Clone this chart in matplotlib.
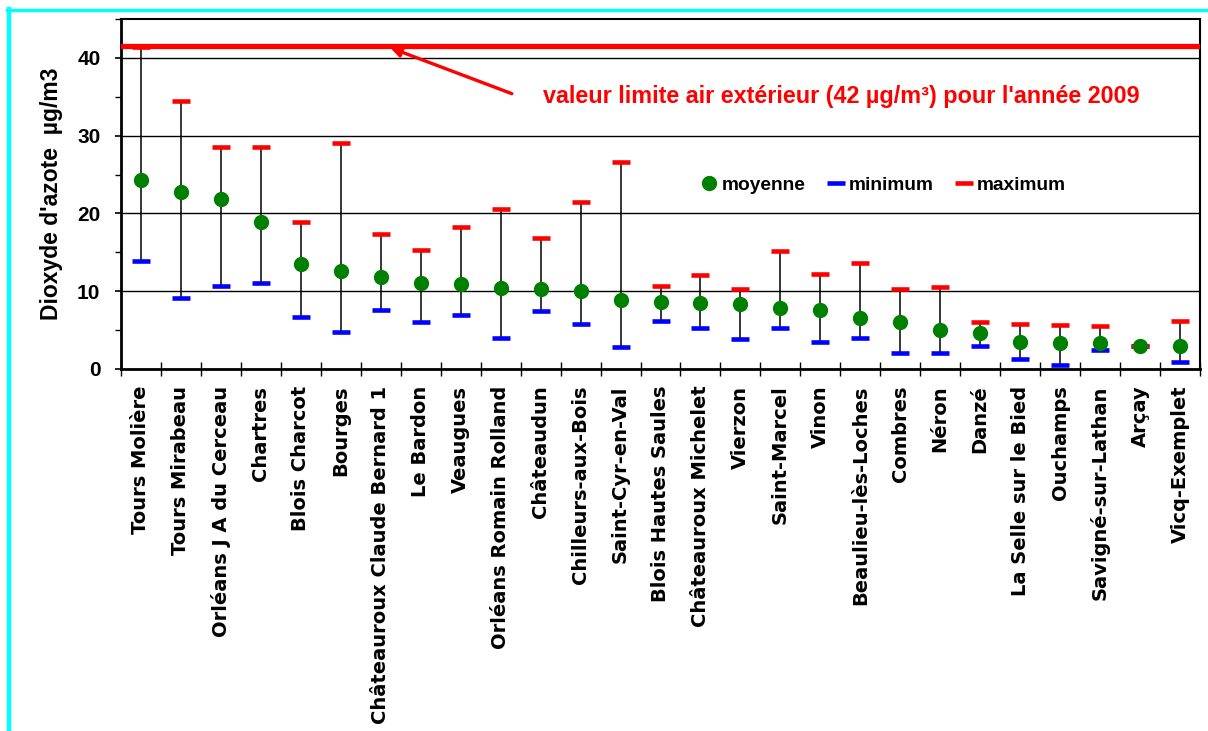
import matplotlib
matplotlib.use("Agg")
import matplotlib.pyplot as plt
from matplotlib.lines import Line2D
import numpy as np

sites = ["Tours Molière", "Tours Mirabeau", "Orléans J A du Cerceau", "Chartres",
         "Blois Charcot", "Bourges", "Châteauroux Claude Bernard 1", "Le Bardon",
         "Veaugues", "Orléans Romain Rolland", "Châteaudun", "Chilleurs-aux-Bois",
         "Saint-Cyr-en-Val", "Blois Hautes Saules", "Châteauroux Michelet", "Vierzon",
         "Saint-Marcel", "Vinon", "Beaulieu-lès-Loches", "Combres", "Néron", "Danzé",
         "La Selle sur le Bied", "Ouchamps", "Savigné-sur-Lathan", "Arçay", "Vicq-Exemplet"]
moyenne = [24.3, 22.8, 21.9, 18.9, 13.5, 12.6, 11.8, 11.1, 10.9, 10.4, 10.25, 10.0,
           8.9, 8.6, 8.5, 8.4, 7.9, 7.65, 6.5, 6.0, 5.0, 4.65, 3.45, 3.4, 3.3, 3.0, 3.0]
minimum = [13.85, 9.15, 10.7, 11.0, 6.7, 4.8, 7.6, 6.0, 6.9, 4.0, 7.5, 5.8,
           2.8, 6.15, 5.3, 3.9, 5.3, 3.5, 4.0, 2.0, 2.1, 2.9, 1.3, 0.55, 2.4, 3.0, 0.95]
maximum = [41.4, 34.4, 28.6, 28.5, 18.9, 29.0, 17.4, 15.3, 18.2, 20.6, 16.9, 21.5,
           26.6, 10.7, 12.1, 10.3, 15.2, 12.2, 13.6, 10.3, 10.55, 6.0, 5.8, 5.6, 5.5, 3.0, 6.15]
valeur_limite = 41.5
y_ticks = [0, 10, 20, 30, 40]

SANS = ["Liberation Sans", "DejaVu Sans"]

W, H = 1208, 731
fig = plt.figure(figsize=(W / 100, H / 100), dpi=100)
ax = fig.add_axes([121 / W, 1 - 369 / H, (1200 - 121) / W, (369 - 19) / H])

x = np.arange(len(sites))
ax.set_xlim(-0.5, len(sites) - 0.5)
ax.set_ylim(0, 45)

# grid
for yv in y_ticks[1:]:
    ax.axhline(yv, color="black", lw=1.0, zorder=1)

# whiskers
ax.vlines(x, minimum, maximum, color="black", lw=1.1, zorder=2)
ax.plot(x, minimum, linestyle="none", marker="_", markersize=13, mew=3.3,
        color="#0000ff", zorder=3)
ax.plot(x, maximum, linestyle="none", marker="_", markersize=13, mew=3.3,
        color="#ff0000", zorder=3)
ax.plot(x, moyenne, linestyle="none", marker="o", markersize=10,
        color="#008000", mec="#008000", zorder=4)

# limit line
ax.axhline(valeur_limite, color="#ff0000", lw=3.8, zorder=5)

# arrow + text
ax.annotate("", xy=(6.24, 41.3), xytext=(9.28, 35.4),
            arrowprops=dict(arrowstyle="-|>,head_length=0.6,head_width=0.3",
                            color="#ff0000", lw=2.4, shrinkA=0, shrinkB=0), zorder=6)
ax.text(17.53, 35.1, "valeur limite air extérieur (42 µg/m³) pour l'année 2009",
        color="#ff0000", fontsize=16.8, fontweight="bold", family=SANS,
        ha="center", va="center", zorder=6)

# axes styling
for s in ax.spines.values():
    s.set_color("black")
ax.spines["left"].set_linewidth(2)
ax.spines["bottom"].set_linewidth(2)
ax.spines["top"].set_linewidth(1.5)
ax.spines["right"].set_linewidth(1.5)

ax.set_yticks(y_ticks)
ax.set_yticks([5, 15, 25, 35, 45], minor=True)
ax.tick_params(axis="y", which="major", direction="out", length=4.3, width=1.2,
               labelsize=15, pad=10.5)
ax.tick_params(axis="y", which="minor", direction="out", length=4, width=1.0)
for lab in ax.get_yticklabels():
    lab.set_fontweight("bold")
    lab.set_family(SANS)

ax.set_xticks(x)
ax.set_xticklabels(sites, rotation=90, fontsize=14, fontweight="bold",
                   family=["DejaVu Sans"])
ax.set_xticks(np.arange(-0.5, len(sites), 1.0), minor=True)
ax.tick_params(axis="x", which="major", length=0, pad=12)
ax.tick_params(axis="x", which="minor", direction="inout", length=9.4, width=1.0)

ax.set_ylabel("Dioxyde d'azote  µg/m3", fontsize=16.5, fontweight="bold",
              family=SANS, labelpad=10)

# legend
handles = [
    Line2D([], [], linestyle="none", marker="o", markersize=10, color="#008000"),
    Line2D([], [], linestyle="none", marker="_", markersize=13, mew=3.3, color="#0000ff"),
    Line2D([], [], linestyle="none", marker="_", markersize=13, mew=3.3, color="#ff0000"),
]
leg = ax.legend(handles, ["moyenne", "minimum", "maximum"], ncol=3, frameon=False,
                loc="center", bbox_to_anchor=(0.707, 0.526), handlelength=0.7,
                handletextpad=0.3, columnspacing=1.25,
                prop=dict(family=SANS, weight="bold", size=13.8))

# cyan frame
fig.add_artist(Line2D([8.7 / W, 8.7 / W], [0, 1 - 8.5 / H], color="#00ffff", lw=3.2,
                      transform=fig.transFigure))
fig.add_artist(Line2D([7 / W, 1], [1 - 10 / H, 1 - 10 / H], color="#00ffff", lw=2.4,
                      transform=fig.transFigure))

fig.savefig("out.png", dpi=100)
